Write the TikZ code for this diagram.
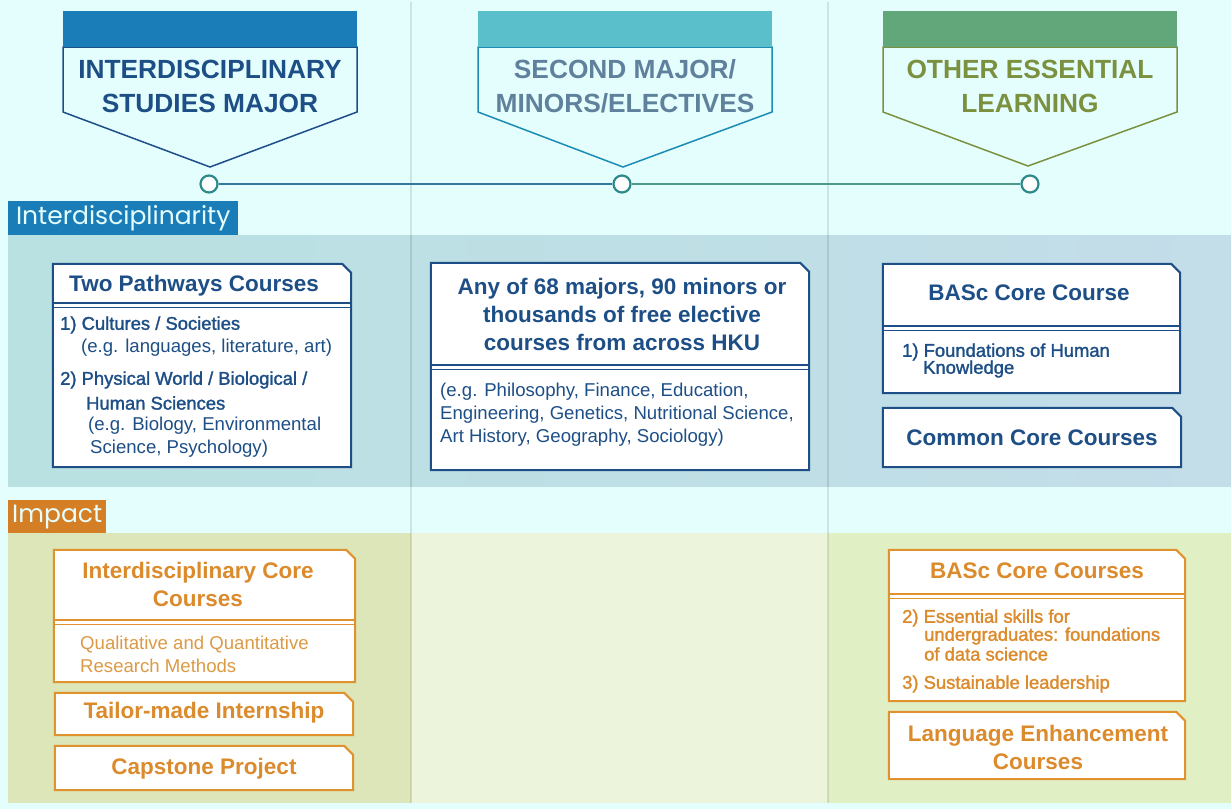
\documentclass[tikz,border=0pt]{standalone}
\usepackage{fontspec}
\setmainfont{Liberation Sans}
\newfontfamily\medfont[FakeBold=1.6]{Liberation Sans}
\newfontfamily\bannerfont{Poppins}
\definecolor{bgc}{HTML}{E4FEFE}
\definecolor{navy}{HTML}{1D4F86}
\definecolor{blueBar}{HTML}{1B7DB8}
\definecolor{tealBar}{HTML}{5BBFCB}
\definecolor{greenBar}{HTML}{61A77A}
\definecolor{tealLine}{HTML}{1C8CB5}
\definecolor{slate}{HTML}{5F819C}
\definecolor{olive}{HTML}{7C9140}
\definecolor{orangeC}{HTML}{E0922E}
\definecolor{orangeT}{HTML}{DB8A2C}
\definecolor{orangeL}{HTML}{DC9A45}
\definecolor{orangeB}{HTML}{D47F25}
\definecolor{bandL}{HTML}{B9E1E1}
\definecolor{bandR}{HTML}{C3DDE9}
\definecolor{imL}{HTML}{DCE6B8}
\definecolor{imM}{HTML}{EDF4DC}
\definecolor{imR}{HTML}{E1EFC5}
\definecolor{lineA}{HTML}{32789F}
\definecolor{lineB}{HTML}{4D9A88}
\definecolor{ringc}{HTML}{2E8A8A}
\tikzset{
  cardbox/.style={inner sep=0pt, draw=none},
  bar/.style={inner sep=0pt, anchor=north west, minimum width=294pt, minimum height=36pt},
  banner/.style={inner sep=0pt, anchor=north west, text=bgc, font=\bannerfont\fontsize{25}{25}\selectfont},
  ring/.style={circle, draw=ringc, fill=white, line width=2.2pt, minimum size=17pt, inner sep=0pt},
  head/.style={align=center, inner sep=0pt, font=\bfseries\fontsize{26.3}{34}\selectfont},
  ttl/.style={align=center, inner sep=0pt, font=\bfseries\fontsize{22.5}{28}\selectfont},
  bodyt/.style={anchor=west, inner sep=0pt, font=\fontsize{18.6}{22}\selectfont},
  medt/.style={anchor=west, inner sep=0pt, font=\medfont\fontsize{18.4}{22}\selectfont},
  sep/.style={line width=1.3pt},
}
\newcommand{\mkcard}[6]{%
  \node[cardbox, minimum width=#4pt, minimum height=#5pt] (#1) at (#2,#3) {};
  \draw[line width=2pt, #6, fill=white] (#1.north west) -- ([xshift=-9pt]#1.north east)
    -- ([yshift=-9pt]#1.north east) -- (#1.south east) -- (#1.south west) -- cycle;}
\newcommand{\mksep}[3]{%
  \draw[sep,#3] (#1.west |- 0,#2) -- (#1.east |- 0,#2);
  \draw[sep,#3] (#1.west |- 0,#2+4.5) -- (#1.east |- 0,#2+4.5);}
\begin{document}
\begin{tikzpicture}[x=1pt,y=-1pt]
\useasboundingbox (0,0) rectangle (1231,809);
\fill[bgc] (0,0) rectangle (1231,809);
% bands
\shade[left color=bandL, right color=bandR] (8,235) rectangle (1231,486);
\fill[imL] (8,533) rectangle (411,803);
\fill[imM] (411,533) rectangle (828,803);
\fill[imR] (828,533) rectangle (1231,803);
% column separators
\draw[black, opacity=0.1, line width=2.5pt] (411,2) -- (411,803);
\draw[black, opacity=0.1, line width=2.5pt] (828,2) -- (828,803);
% headers
\draw[navy, line width=1.5pt, fill=bgc] (63,47) -- (63,112) -- (210,167) -- (357,112) -- (357,47) -- cycle;
\node[bar, fill=blueBar] (h1) at (63,11) {};
\node[head, text=navy] (h1t) at (210,86) {INTERDISCIPLINARY\\STUDIES MAJOR};
\draw[tealLine, line width=1.5pt, fill=bgc] (478,47) -- (478,112) -- (623,167) -- (772,112) -- (772,47) -- cycle;
\node[bar, fill=tealBar] (h2) at (478,11) {};
\node[head, text=slate] (h2t) at (625,86) {SECOND MAJOR/\\MINORS/ELECTIVES};
\draw[olive, line width=1.5pt, fill=bgc] (883,47) -- (883,112) -- (1028,166) -- (1177,112) -- (1177,47) -- cycle;
\node[bar, fill=greenBar] (h3) at (883,11) {};
\node[head, text=olive] (h3t) at (1030,86) {OTHER ESSENTIAL\\LEARNING};
% timeline
\node[ring] (c1) at (209,184) {};
\node[ring] (c2) at (622,184) {};
\node[ring] (c3) at (1030,184) {};
\draw[lineA, line width=1.8pt] (c1) -- (c2);
\draw[lineB, line width=1.8pt] (c2) -- (c3);
% banners
\node[banner, fill=blueBar, minimum width=230pt, minimum height=34pt] (b1) at (8,201) {Interdisciplinarity};
\node[banner, fill=orangeB, minimum width=98pt, minimum height=33pt] (b2) at (8,500) {Impact};
% ---- Interdisciplinarity cards
\mkcard{A}{202}{365.5}{298}{203}{navy}
\mksep{A}{303}{navy}
\node[ttl, text=navy] (At) at (194,286) {Two Pathways Courses};
\node[medt, text=navy] (A1) at (60,325) {1) Cultures / Societies};
\node[bodyt, text=navy] (A2) at (81,348) {(e.g. languages, literature, art)};
\node[medt, text=navy] (A3) at (60,380) {2) Physical World / Biological /};
\node[medt, text=navy] (A4) at (86,403) {Human Sciences};
\node[bodyt, text=navy] (A5) at (88,426) {(e.g. Biology, Environmental};
\node[bodyt, text=navy] (A6) at (90,449) {Science, Psychology)};

\mkcard{B}{620}{366.5}{378}{207}{navy}
\mksep{B}{365}{navy}
\node[ttl, text=navy] (Bt) at (622,314) {Any of 68 majors, 90 minors or\\thousands of free elective\\courses from across HKU};
\node[bodyt, text=navy] (B1) at (440,392) {(e.g. Philosophy, Finance, Education,};
\node[bodyt, text=navy] (B2) at (440,415) {Engineering, Genetics, Nutritional Science,};
\node[bodyt, text=navy] (B3) at (440,438) {Art History, Geography, Sociology)};

\mkcard{C}{1031.5}{328.5}{297}{129}{navy}
\mksep{C}{326}{navy}
\node[ttl, text=navy] (Ct) at (1029,293) {BASc Core Course};
\node[medt, text=navy] (C1) at (902,352) {1) Foundations of Human};
\node[medt, text=navy] (C2) at (923,369) {Knowledge};

\mkcard{D}{1032}{437.5}{298}{59}{navy}
\node[ttl, text=navy] (Dt) at (1032,438) {Common Core Courses};
% ---- Impact cards
\mkcard{E}{204.5}{616}{301}{132}{orangeC}
\mksep{E}{620}{orangeC}
\node[ttl, text=orangeT] (Et) at (198,584.5) {Interdisciplinary Core\\Courses};
\node[bodyt, text=orangeL] (E1) at (80,645) {Qualitative and Quantitative};
\node[bodyt, text=orangeL] (E2) at (80,666) {Research Methods};

\mkcard{F}{204}{714}{298}{42}{orangeC}
\node[ttl, text=orangeT] (Ft) at (204,713) {Tailor-made Internship};

\mkcard{G}{204}{768}{298}{44}{orangeC}
\node[ttl, text=orangeT] (Gt) at (204,769) {Capstone Project};

\mkcard{H}{1037}{625.5}{296}{151}{orangeC}
\mksep{H}{594}{orangeC}
\node[ttl, text=orangeT] (Ht) at (1037,571) {BASc Core Courses};
\node[medt, text=orangeT] (H1) at (902,618) {2) Essential skills for};
\node[medt, text=orangeT] (H2) at (924,636) {undergraduates: foundations};
\node[medt, text=orangeT] (H3) at (924,654) {of data science};
\node[medt, text=orangeT] (H4) at (902,684) {3) Sustainable leadership};

\mkcard{I}{1037}{745.5}{296}{67}{orangeC}
\node[ttl, text=orangeT] (It) at (1038,747) {Language Enhancement\\Courses};
\end{tikzpicture}
\end{document}
